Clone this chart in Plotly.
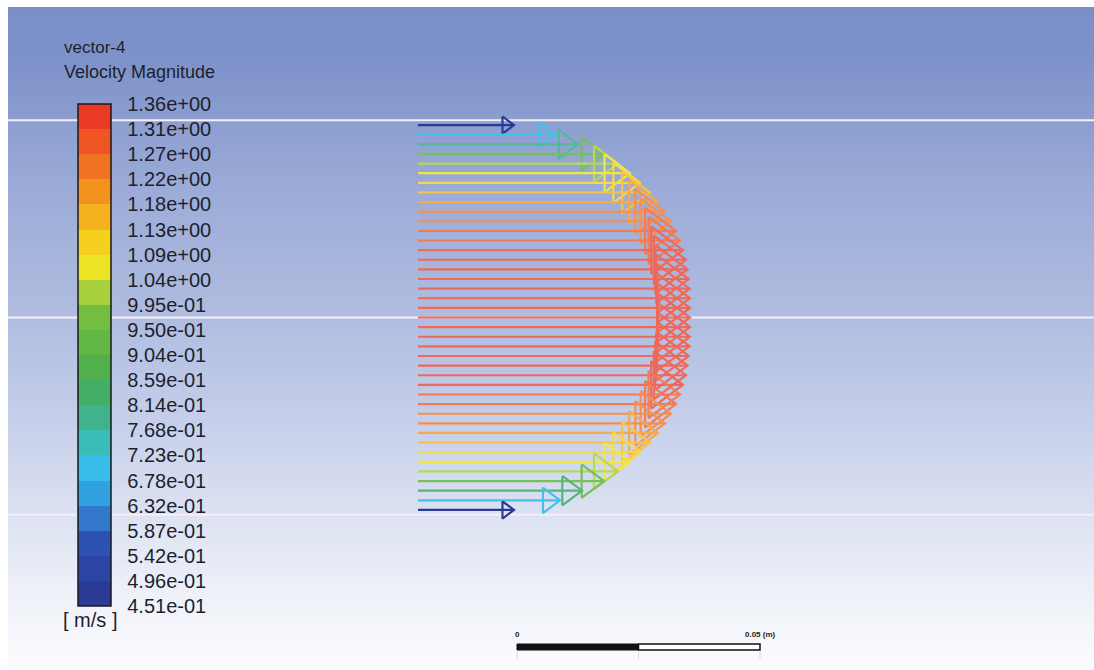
import numpy as np
import plotly.graph_objects as go

# ---------------- data ----------------
LEVEL_LABELS = ["4.51e-01", "4.96e-01", "5.42e-01", "5.87e-01", "6.32e-01", "6.78e-01",
                "7.23e-01", "7.68e-01", "8.14e-01", "8.59e-01", "9.04e-01", "9.50e-01",
                "9.95e-01", "1.04e+00", "1.09e+00", "1.13e+00", "1.18e+00", "1.22e+00",
                "1.27e+00", "1.31e+00", "1.36e+00"]
BAND_COLORS = ["#2b3a95", "#2c44a2", "#2f52b2", "#3478cc", "#2fa2df", "#38bde8",
               "#3cbcb8", "#40b38c", "#45ae66", "#52b04c", "#62b645", "#74bc42",
               "#a8d03c", "#ece424", "#f6d01e", "#f6b21e", "#f4921f", "#f17222",
               "#ee5424", "#e93a26"]
# radial position of each row of cells (m), top to bottom
ROW_Y = [0.0396, 0.03762, 0.03564, 0.03366, 0.03168, 0.0297, 0.02772, 0.02574, 0.02376,
         0.02178, 0.0198, 0.01782, 0.01584, 0.01386, 0.01188, 0.0099, 0.00792, 0.00594,
         0.00396, 0.00198, 0.0, -0.00198, -0.00396, -0.00594, -0.00792, -0.0099,
         -0.01188, -0.01386, -0.01584, -0.01782, -0.0198, -0.02178, -0.02376, -0.02574,
         -0.02772, -0.0297, -0.03168, -0.03366, -0.03564, -0.03762, -0.0396]
# velocity magnitude of each row (m/s)
ROW_VELOCITY = [0.48, 0.69, 0.80, 0.93, 1.00, 1.06, 1.11, 1.16, 1.20, 1.235, 1.265,
                1.29, 1.31, 1.325, 1.34, 1.348, 1.354, 1.358, 1.36, 1.36, 1.36,
                1.36, 1.36, 1.358, 1.354, 1.348, 1.34, 1.325, 1.31, 1.29, 1.265,
                1.235, 1.20, 1.16, 1.11, 1.06, 1.00, 0.93, 0.82, 0.71, 0.48]
PIPE_WALLS = [0.0406, 0.0, -0.0406]
SCALE_BAR_LEN = 0.05   # m
VEC_SCALE = 0.04115    # m of arrow per m/s
HEAD_LEN_FRAC = 0.12
HEAD_HALF_FRAC = 0.09

# ---------------- layout geometry ----------------
W, H = 1094, 670
PX_PER_M = 4860.0
X0_PX, Y0_PX = 418.0, 317.5
xr = [-X0_PX / PX_PER_M, (W - X0_PX) / PX_PER_M]
yr = [-(H - Y0_PX) / PX_PER_M, Y0_PX / PX_PER_M]

def px_x(p):
    return (p - X0_PX) / PX_PER_M

def px_y(p):
    return (Y0_PX - p) / PX_PER_M

cmin, cmax = float(LEVEL_LABELS[0]), float(LEVEL_LABELS[-1])
tickvals = list(np.linspace(cmin, cmax, len(LEVEL_LABELS)))
NB = len(BAND_COLORS)

def band_index(v):
    i = int(np.floor((v - cmin) / (cmax - cmin) * NB))
    return min(max(i, 0), NB - 1)

def lighten(hexc, f):
    r, g, b = (int(hexc[i:i + 2], 16) for i in (1, 3, 5))
    r, g, b = (round(c + (255 - c) * f) for c in (r, g, b))
    return "rgb(%d,%d,%d)" % (r, g, b)

colorscale = []
for i, c in enumerate(BAND_COLORS):
    colorscale.append([i / NB, c])
    colorscale.append([(i + 1) / NB, c])

fig = go.Figure()

# background gradient
bg_stops = [(7, (122, 142, 200)), (60, (126, 146, 202)), (120, (140, 158, 208)),
            (200, (158, 173, 216)), (318, (176, 189, 224)), (420, (198, 207, 234)),
            (515, (220, 226, 242)), (600, (240, 242, 249)), (668, (252, 252, 254))]
bg_px = np.arange(7, 669, 2)
bg_y_edges = [px_y(p) for p in bg_px]
zs = [[(bg_px[i] + bg_px[i + 1]) / 2.0] for i in range(len(bg_px) - 1)]
bg_scale = [[(p - 7) / (668 - 7), "rgb(%d,%d,%d)" % c] for p, c in bg_stops]
fig.add_trace(go.Heatmap(x=[px_x(8), xr[1]], y=bg_y_edges, z=zs, colorscale=bg_scale,
                         zmin=7, zmax=668, showscale=False, hoverinfo="skip"))

# pipe walls / axis
for yw in PIPE_WALLS:
    fig.add_trace(go.Scatter(x=[px_x(8), xr[1]], y=[yw, yw], mode="lines",
                             line=dict(color="#f6f0f4", width=2), hoverinfo="skip",
                             showlegend=False))

# vectors
for y, v in zip(ROW_Y, ROW_VELOCITY):
    L = VEC_SCALE * v
    tip = L
    hl, hh = HEAD_LEN_FRAC * L, HEAD_HALF_FRAC * L
    xs = [0, tip, None, tip - hl, tip, tip - hl, tip - hl]
    ys = [y, y, None, y + hh, y, y - hh, y + hh]
    bi = band_index(v)
    col = lighten(BAND_COLORS[bi], 0.24 * bi / (NB - 1))
    fig.add_trace(go.Scatter(x=xs, y=ys, mode="lines",
                             line=dict(color=col, width=2.2),
                             hoverinfo="skip", showlegend=False))

# colour bar owner
fig.add_trace(go.Scatter(
    x=[VEC_SCALE * v for v in ROW_VELOCITY], y=ROW_Y, mode="markers",
    marker=dict(color=ROW_VELOCITY, colorscale=colorscale, cmin=cmin, cmax=cmax,
                size=4, opacity=0,
                colorbar=dict(x=78 / W, xanchor="left", y=1 - 104 / H, yanchor="top",
                              len=502, lenmode="pixels", thickness=33,
                              thicknessmode="pixels", xpad=0, ypad=0,
                              outlinecolor="#1a1a1a", outlinewidth=1.5,
                              tickvals=tickvals, ticktext=LEVEL_LABELS,
                              ticks="outside", ticklen=12, tickcolor="rgba(0,0,0,0)",
                              tickfont=dict(family="Liberation Sans", size=20,
                                            color="#1c1f2e"),
                              bgcolor="rgba(0,0,0,0)")),
    showlegend=False, hoverinfo="skip"))

# scale bar
sb_x0 = px_x(517)
sb_y0, sb_y1 = px_y(650), px_y(644)
shapes = [
    dict(type="rect", x0=sb_x0, x1=sb_x0 + SCALE_BAR_LEN / 2, y0=sb_y0, y1=sb_y1,
         fillcolor="#111111", line=dict(color="#111111", width=1), layer="above"),
    dict(type="rect", x0=sb_x0 + SCALE_BAR_LEN / 2, x1=sb_x0 + SCALE_BAR_LEN, y0=sb_y0,
         y1=sb_y1, fillcolor="#ffffff", line=dict(color="#111111", width=1.5),
         layer="above"),
]
for f in (0, 0.5, 1):
    shapes.append(dict(type="line", x0=sb_x0 + f * SCALE_BAR_LEN,
                       x1=sb_x0 + f * SCALE_BAR_LEN, y0=px_y(652), y1=px_y(659),
                       line=dict(color="#d8d8dc", width=1), layer="above"))

font = "Liberation Sans"
annotations = [
    dict(text="vector-4", x=62 / W, y=1 - 47 / H, xref="paper", yref="paper",
         xanchor="left", yanchor="middle", showarrow=False,
         font=dict(family=font, size=17, color="#1c1f2e")),
    dict(text="Velocity Magnitude", x=62 / W, y=1 - 72 / H, xref="paper", yref="paper",
         xanchor="left", yanchor="middle", showarrow=False,
         font=dict(family=font, size=18, color="#1c1f2e")),
    dict(text="[ m/s ]", x=61 / W, y=1 - 620 / H, xref="paper", yref="paper",
         xanchor="left", yanchor="middle", showarrow=False,
         font=dict(family=font, size=20, color="#1c1f2e")),
    dict(text="<b>0</b>", x=sb_x0, y=px_y(634), xref="x", yref="y",
         xanchor="center", yanchor="middle", showarrow=False,
         font=dict(family=font, size=8, color="#222222")),
    dict(text="<b>0.05 (m)</b>", x=sb_x0 + SCALE_BAR_LEN, y=px_y(634), xref="x", yref="y",
         xanchor="center", yanchor="middle", showarrow=False,
         font=dict(family=font, size=8, color="#222222")),
]

fig.update_layout(
    width=W, height=H, margin=dict(l=0, r=0, t=0, b=0, autoexpand=False),
    paper_bgcolor="#ffffff", plot_bgcolor="#ffffff",
    xaxis=dict(range=xr, visible=False, showgrid=False, zeroline=False),
    yaxis=dict(range=yr, visible=False, showgrid=False, zeroline=False),
    shapes=shapes, annotations=annotations, showlegend=False,
)

fig.write_html("out.html")
